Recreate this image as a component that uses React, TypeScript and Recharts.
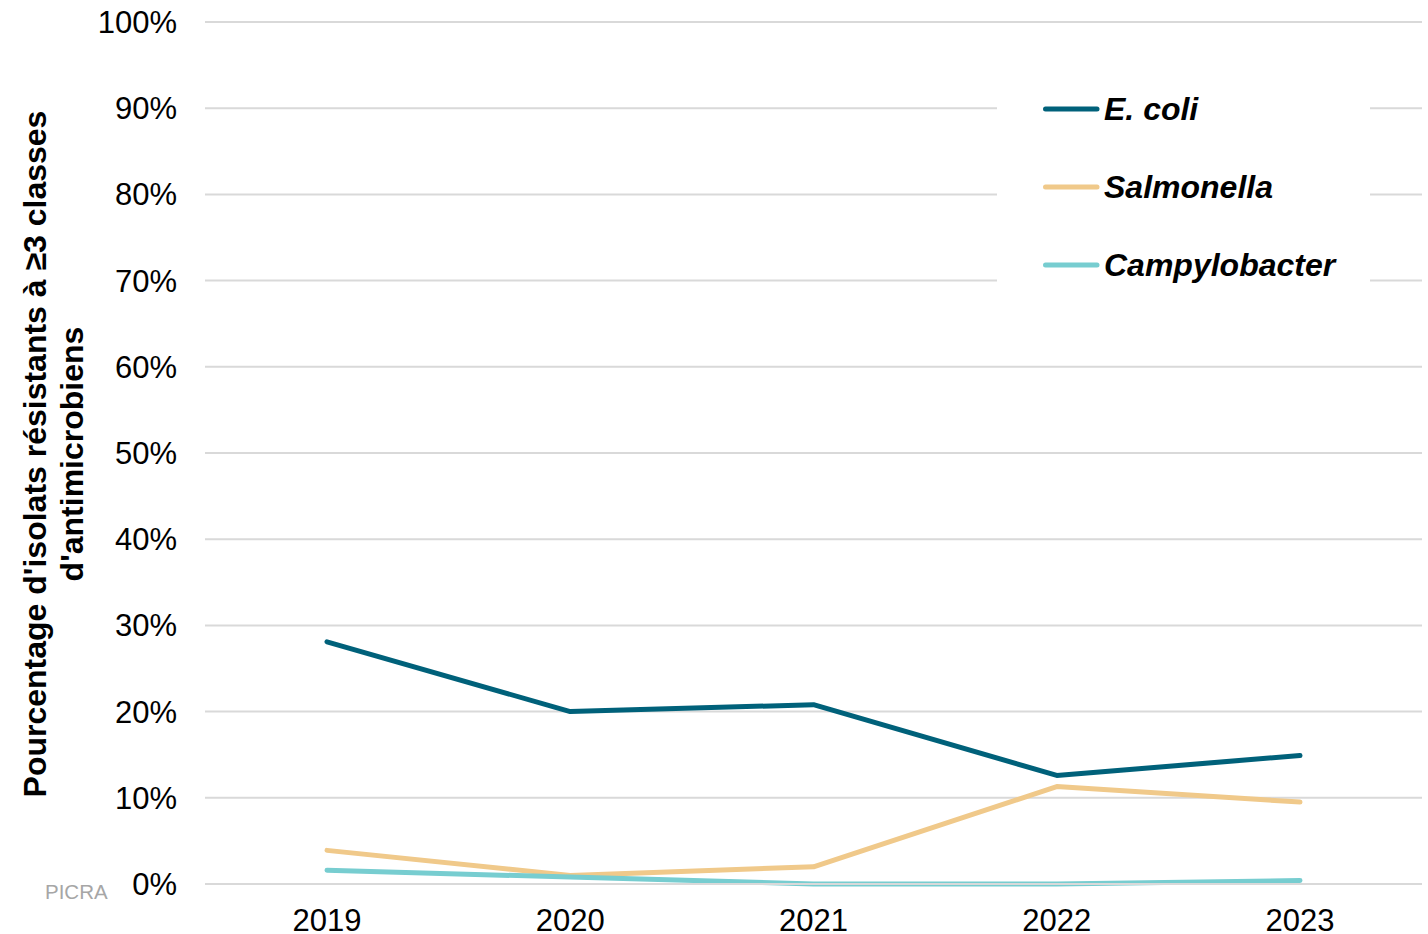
import { LineChart, Line, XAxis, YAxis, CartesianGrid, Legend } from "recharts";

const YEARS = ["2019", "2020", "2021", "2022", "2023"];
const ECOLI = [28.1, 20.0, 20.8, 12.6, 14.9];
const SALMONELLA = [3.9, 1.0, 2.0, 11.3, 9.5];
const CAMPYLOBACTER = [1.6, 0.8, 0.0, 0.0, 0.4];
const Y_TICKS = [0, 10, 20, 30, 40, 50, 60, 70, 80, 90, 100];

const SERIES = [
  { key: "ecoli", name: "E. coli", color: "#00617A" },
  { key: "salmonella", name: "Salmonella", color: "#F0C98A" },
  { key: "campylobacter", name: "Campylobacter", color: "#77CDD0" },
];

const data = YEARS.map((year, i) => ({
  year,
  ecoli: ECOLI[i],
  salmonella: SALMONELLA[i],
  campylobacter: CAMPYLOBACTER[i],
}));

const FONT = "Arial, 'Liberation Sans', sans-serif";

const renderYLabel = () => (
  <g>
    <text
      transform="rotate(-90, 53, 454)"
      x={53}
      y={454}
      textAnchor="middle"
      fontFamily={FONT}
      fontWeight="bold"
      fontSize={32}
      fill="#000"
    >
      <tspan x={53} dy={-18.5} dominantBaseline="central">
        Pourcentage d'isolats résistants à ≥3 classes
      </tspan>
      <tspan x={53} dy={37} dominantBaseline="central">
        d'antimicrobiens
      </tspan>
    </text>
    <text x={45} y={899} fontFamily={FONT} fontSize={20.5} fill="#a6a6a6">
      PICRA
    </text>
  </g>
);

const renderLegend = () => (
  <div
    style={{
      background: "#fff",
      width: 373,
      height: 250,
      position: "relative",
    }}
  >
    {SERIES.map((s, i) => (
      <div
        key={s.key}
        style={{
          position: "absolute",
          left: 46,
          top: 69 + i * 78 - 20,
          height: 40,
          display: "flex",
          alignItems: "center",
        }}
      >
        <svg width={58} height={10} style={{ marginRight: 3 }}>
          <line x1={2.5} y1={5} x2={54} y2={5} stroke={s.color} strokeWidth={5} strokeLinecap="round" />
        </svg>
        <span
          style={{
            fontFamily: FONT,
            fontWeight: "bold",
            fontStyle: "italic",
            fontSize: 32,
            color: "#000",
            whiteSpace: "nowrap",
          }}
        >
          {s.name}
        </span>
      </div>
    ))}
  </div>
);

export default function App() {
  return (
    <div style={{ position: "absolute", left: 0, top: 0, width: 1428, height: 934, background: "#fff" }}>
      <LineChart
        width={1428}
        height={934}
        data={data}
        margin={{ top: 22, right: 6, bottom: 20, left: 0 }}
      >
        <CartesianGrid vertical={false} stroke="#d9d9d9" strokeWidth={2} />
        <XAxis
          dataKey="year"
          height={30}
          padding={{ left: 122, right: 122 }}
          axisLine={{ stroke: "#d9d9d9", strokeWidth: 2 }}
          tickLine={false}
          tickSize={0}
          tickMargin={25}
          tick={{ fontFamily: FONT, fontSize: 31, fill: "#000" }}
          interval={0}
        />
        <YAxis
          width={205}
          domain={[0, 100]}
          ticks={Y_TICKS}
          tickFormatter={(v: number) => `${v}%`}
          axisLine={false}
          tickLine={false}
          tickSize={0}
          tickMargin={28}
          tick={{ fontFamily: FONT, fontSize: 31, fill: "#000" }}
          interval={0}
          label={{ content: renderYLabel }}
        />
        <Legend
          layout="vertical"
          align="center"
          verticalAlign="middle"
          content={renderLegend}
          wrapperStyle={{ position: "absolute", left: 997, top: 40, width: 373, height: 250 }}
        />
        {SERIES.map((s) => (
          <Line
            key={s.key}
            type="linear"
            dataKey={s.key}
            name={s.name}
            stroke={s.color}
            strokeWidth={5}
            strokeLinecap="round"
            strokeLinejoin="round"
            dot={false}
            activeDot={false}
            isAnimationActive={false}
          />
        ))}
      </LineChart>
    </div>
  );
}
